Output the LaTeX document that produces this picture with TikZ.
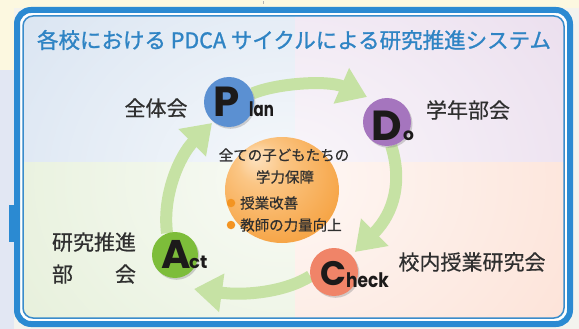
\documentclass[tikz,border=0pt]{standalone}
\usepackage{fontspec}
\usepackage{graphicx}
\setmainfont{Noto Sans CJK JP}
\newfontfamily\titlefont[FakeBold=1.2]{Noto Sans CJK JP}
\newfontfamily\labfont[FakeBold=0.5]{Noto Sans CJK JP}
\newfontfamily\pdcafont{Poppins}
\usetikzlibrary{arrows.meta,shadows,fadings,calc}
\definecolor{bgout}{HTML}{F3F3EE}
\definecolor{bgcream}{HTML}{FCF8E0}
\definecolor{bgleft}{HTML}{E2E7F3}
\definecolor{frameblue}{HTML}{2B8AD2}
\definecolor{thinblue}{HTML}{3A8CCB}
\definecolor{titleblue}{HTML}{2F84C4}
\definecolor{qTL}{HTML}{DAE5F2}
\definecolor{qTR}{HTML}{ECE0EF}
\definecolor{qBL}{HTML}{E6F0DA}
\definecolor{qBR}{HTML}{FDE3D8}
\definecolor{cycgreen}{HTML}{C6E2A4}
\definecolor{orA}{HTML}{FDE3C2}
\definecolor{orB}{HTML}{FBC685}
\definecolor{orC}{HTML}{F6A445}
\definecolor{orD}{HTML}{EF8A1C}
\definecolor{bulletor}{HTML}{F39422}
\definecolor{cP}{HTML}{5B90D2}
\definecolor{cD}{HTML}{A575BE}
\definecolor{cC}{HTML}{F08468}
\definecolor{cA}{HTML}{7DBD3A}
\definecolor{letterk}{HTML}{1C1A1A}
\definecolor{labgray}{HTML}{2F2F2F}
\pgfdeclareradialshading{orangeball}{\pgfpoint{-12bp}{16bp}}{color(0bp)=(orA); color(10bp)=(orB); color(32bp)=(orC); color(50bp)=(orD)}
\tikzfading[name=glowfade, inner color=transparent!25, outer color=transparent!100]
\tikzset{
  lab/.style={font=\labfont\fontsize{21}{21}\selectfont, text=labgray, inner sep=0pt},
  ctext/.style={font=\labfont\fontsize{14.5}{15}\selectfont, text=labgray, inner sep=0pt},
  holder/.style={circle, inner sep=0pt, draw=none},
  pdcacirc/.style={circle, inner sep=0pt, draw=none, drop shadow={opacity=0.35, shadow xshift=1.5pt, shadow yshift=-1.8pt}},
  bigletter/.style={anchor=base west, inner sep=0pt, text=letterk, font=\pdcafont\bfseries\fontsize{42}{42}\selectfont},
  smallletter/.style={anchor=base west, inner sep=0pt, text=letterk, font=\pdcafont\bfseries\fontsize{20}{20}\selectfont},
  cycarrow/.style={draw=cycgreen, line width=12pt, -{Triangle[length=28pt,width=37pt]}},
  bulletdot/.style={circle, fill=bulletor, inner sep=0pt, minimum size=8.5pt}
}
\begin{document}
\begin{tikzpicture}[x=1pt,y=-1pt]
\useasboundingbox (0,0) rectangle (579,329);
% outside background
\fill[bgout] (0,0) rectangle (579,329);
\fill[bgcream] (0,0) rectangle (579,8);
\fill[bgcream] (0,0) rectangle (14,70);
\fill[bgleft] (0,70) rectangle (14,329);
\fill[frameblue] (9,205) rectangle (16,242);
\draw[gray!60, line width=0.8pt] (263,1.5) -- (263,4.5);
% outer frame
\fill[white, rounded corners=12pt] (17,10) rectangle (570,324);
\draw[frameblue, line width=6pt, rounded corners=14pt] (17,10) rectangle (570,324);
% inner area
\begin{scope}
\clip[rounded corners=10pt] (23,16) rectangle (564,318);
\fill[qTL] (23,16) rectangle (295,162);
\fill[qTR] (295,16) rectangle (564,162);
\fill[qBL] (23,162) rectangle (295,318);
\fill[qBR] (295,162) rectangle (564,318);
\fill[white, path fading=glowfade] (285,180) ellipse [x radius=340, y radius=280];
\end{scope}
\draw[thinblue, line width=1.5pt, rounded corners=10pt] (23,16) rectangle (564,318);
% title
\node[font=\titlefont\fontsize{21.5}{22}\selectfont, text=titleblue, inner sep=0pt] (title) at (294,40) {各校における PDCA サイクルによる研究推進システム};
% circle positions
\node[holder, minimum size=50pt] (Pc) at (229,102) {};
\node[holder, minimum size=48pt] (Dc) at (387,122) {};
\node[holder, minimum size=48pt] (Cc) at (334,272) {};
\node[holder, minimum size=46pt] (Ac) at (175,255) {};
% cycle arrows
\draw[cycarrow] (Pc.20) .. controls (278,83) and (328,80) .. ($(Dc)+(-20,-25)$);
\draw[cycarrow] (Dc.-80) .. controls (402,180) and (395,212) .. ($(Cc)+(21,-20)$);
\draw[cycarrow] (Cc.190) .. controls (285,292) and (245,296) .. ($(Ac)+(19,34)$);
\draw[cycarrow] (Ac.110) .. controls (162,195) and (180,155) .. ($(Pc)+(-17,21)$);
% circles on top
\node[pdcacirc, fill=cP, minimum size=50pt] (P) at (Pc) {};
\node[pdcacirc, fill=cD, minimum size=48pt] (D) at (Dc) {};
\node[pdcacirc, fill=cC, minimum size=48pt] (C) at (Cc) {};
\node[pdcacirc, fill=cA, minimum size=46pt] (A) at (Ac) {};
% letters
\node[bigletter] (Pl) at (213,117) {P};
\node[smallletter] (lan) at (249,117) {\scalebox{0.75}[1]{lan}};
\node[bigletter] (Dl) at (371,140) {D};
\node[smallletter, font=\pdcafont\bfseries\fontsize{17}{17}\selectfont] (o) at (403,140) {o};
\node[bigletter, font=\pdcafont\bfseries\fontsize{34}{34}\selectfont] (Cl) at (320,285) {C};
\node[smallletter] (heck) at (346,287) {\scalebox{0.85}[1]{heck}};
\node[bigletter, font=\pdcafont\bfseries\fontsize{40}{40}\selectfont] (Al) at (161,268) {A};
\node[smallletter, font=\pdcafont\bfseries\fontsize{18}{18}\selectfont] (ct) at (189,268) {ct};
% center ellipse
\shade[shading=orangeball] (282,190) ellipse [x radius=57, y radius=53];
\node[ctext] (t1) at (284,155) {全ての子どもたちの};
\node[ctext] (t2) at (285,177) {学力保障};
\node[bulletdot] (b1) at (231,203) {};
\node[ctext, anchor=west] (t3) at (240,203) {授業改善};
\node[bulletdot] (b2) at (231,225) {};
\node[ctext, anchor=west] (t4) at (240,225) {教師の力量向上};
% labels
\node[lab] (l1) at (156,108) {全体会};
\node[lab] (l2) at (468,110) {学年部会};
\node[lab] (l3) at (472,262) {校内授業研究会};
\node[lab] (l4) at (94,242) {研究推進};
\node[lab] (l5) at (94,274) {部　　会};
\end{tikzpicture}
\end{document}
